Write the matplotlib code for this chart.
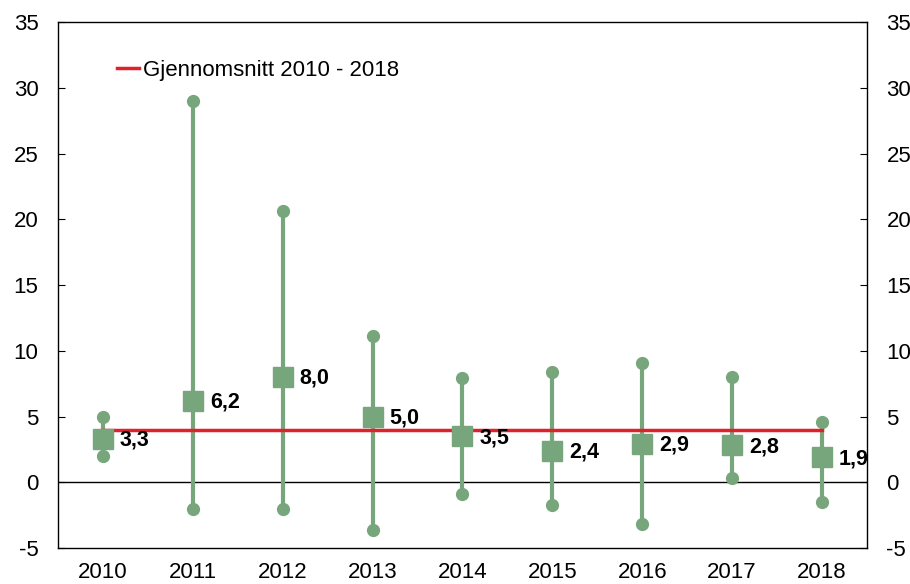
import numpy as np
import matplotlib
matplotlib.use("Agg")
from matplotlib import pyplot as plt

plt.rcParams['font.family'] = ['Liberation Sans', 'DejaVu Sans']
plt.rcParams['axes.unicode_minus'] = False

# data
years = ['2010', '2011', '2012', '2013', '2014', '2015', '2016', '2017', '2018']
mean_vals = [3.3, 6.2, 8.0, 5.0, 3.5, 2.4, 2.9, 2.8, 1.9]
high_vals = [5.0, 29.0, 20.6, 11.1, 7.9, 8.4, 9.1, 8.0, 4.6]
low_vals = [2.0, -2.0, -2.0, -3.6, -0.9, -1.7, -3.2, 0.3, -1.5]
avg_2010_2018 = 4.0
labels = ['3,3', '6,2', '8,0', '5,0', '3,5', '2,4', '2,9', '2,8', '1,9']

green = '#78a67c'
red = '#e0202b'

fig = plt.figure(figsize=(9.1, 5.84), dpi=100)
ax = fig.add_axes([0.0637, 0.0616, 0.889, 0.9007])
x = np.arange(len(years))

# range lines
ax.vlines(x, low_vals, high_vals, color=green, lw=3, zorder=2)
ax.plot(x, high_vals, 'o', color=green, ms=8.5, zorder=3)
ax.plot(x, low_vals, 'o', color=green, ms=8.5, zorder=3)

# average line
ax.plot([x[0], x[-1]], [avg_2010_2018] * 2, color=red, lw=2.5, zorder=4,
        label='Gjennomsnitt 2010 - 2018')

# point estimates
ax.plot(x, mean_vals, 's', color=green, ms=14, zorder=5)
for xi, v, t in zip(x, mean_vals, labels):
    ax.text(xi + 0.19, v - 0.1, t, fontsize=15.5, fontweight='bold', va='center', ha='left', zorder=6)

ax.axhline(0, color='black', lw=1, zorder=1)

ax.set_xlim(-0.5, 8.5)
ax.set_ylim(-5, 35)
ax.set_yticks(np.arange(-5, 36, 5))
ax.set_xticks(x)
ax.set_xticklabels(years)
ax.tick_params(axis='y', direction='in', length=5, labelsize=16, right=True, labelright=True, pad=14)
ax.tick_params(axis='x', length=0, labelsize=16, pad=10)
for s in ax.spines.values():
    s.set_linewidth(1)

ax.legend(loc='upper left', bbox_to_anchor=(0.062, 0.945), frameon=False, fontsize=16,
          handlelength=1.0, handletextpad=0.15, borderaxespad=0)

fig.savefig('out.png', dpi=100)
